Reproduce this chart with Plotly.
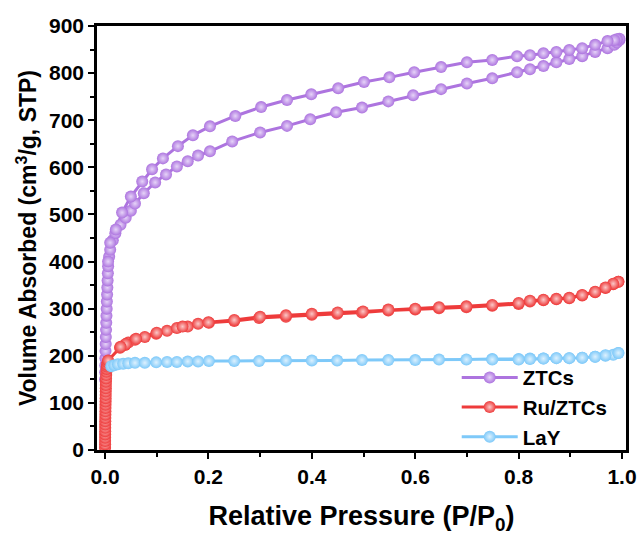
import plotly.graph_objects as go

# ZTCs adsorption branch
ztc_ads_p = [0.0002, 0.0004, 0.0006, 0.0008, 0.001, 0.0013, 0.0016, 0.002, 0.0024, 0.0028,
             0.0032, 0.0036, 0.004, 0.0045, 0.005, 0.0055, 0.006, 0.008,
             0.01, 0.015, 0.02, 0.03, 0.04, 0.05, 0.058, 0.075, 0.097, 0.118, 0.139, 0.16,
             0.18, 0.203, 0.246, 0.30, 0.352, 0.397, 0.447, 0.497, 0.548, 0.596, 0.65,
             0.70, 0.749, 0.797, 0.822, 0.848, 0.873, 0.898, 0.923, 0.948, 0.972, 0.985,
             0.99, 0.995]
ztc_ads_v = [150, 165, 180, 195, 210, 225, 240, 255, 270, 285,
             300, 315, 330, 345, 360, 375, 390, 410,
             425, 445, 460, 478, 493, 508, 523, 545, 568, 585, 602, 613,
             625, 634, 655, 674, 688, 702, 717, 727, 740, 753, 766,
             778, 789, 802, 808, 815, 823, 830, 836, 845, 853, 860,
             865, 870]
# ZTCs desorption branch
ztc_des_p = [0.995, 0.99, 0.985, 0.972, 0.948, 0.923, 0.898, 0.873, 0.848, 0.822, 0.797,
             0.749, 0.70, 0.65, 0.598, 0.55, 0.501, 0.451, 0.399, 0.352, 0.302, 0.252,
             0.203, 0.170, 0.141, 0.112, 0.091, 0.072, 0.05, 0.033, 0.021, 0.01, 0.006]
ztc_des_v = [873, 872, 870, 868, 860, 853, 849, 845, 842, 838, 836,
             828, 823, 813, 802, 791, 781, 768, 755, 743, 728, 709,
             687, 668, 645, 619, 596, 570, 538, 504, 468, 440, 400]

# Ru/ZTCs adsorption branch
ru_ads_p = [0.0001, 0.00015, 0.0002, 0.00025, 0.0003, 0.00035, 0.0004, 0.00045, 0.0005, 0.0006,
            0.0007, 0.0008, 0.0009, 0.001, 0.0011, 0.0012, 0.0013, 0.0014, 0.0015, 0.0016,
            0.0018, 0.002, 0.0023, 0.0026, 0.003, 0.0035, 0.004, 0.005, 0.006,
            0.029, 0.039, 0.045, 0.058, 0.077, 0.099, 0.12, 0.139, 0.16, 0.18, 0.201,
            0.25, 0.298, 0.35, 0.40, 0.449, 0.497, 0.548, 0.60, 0.646, 0.699, 0.749,
            0.80, 0.822, 0.848, 0.873, 0.898, 0.923, 0.948, 0.968, 0.983, 0.993]
ru_ads_v = [5, 12, 19, 26, 33, 40, 47, 54, 61, 68,
            75, 82, 89, 96, 103, 110, 117, 124, 131, 138,
            145, 152, 159, 166, 172, 177, 181, 186, 190,
            217, 223, 228, 234, 240, 247, 253, 259, 262, 268, 270,
            274, 280, 283, 287, 289, 292, 296, 298, 301, 303, 306,
            310, 315, 318, 320, 322, 328, 335, 344, 352, 357]
# Ru/ZTCs desorption branch
ru_des_p = [0.993, 0.983, 0.968, 0.948, 0.923, 0.898, 0.873, 0.848, 0.822, 0.80,
            0.749, 0.699, 0.646, 0.60, 0.548, 0.499, 0.45, 0.40, 0.35, 0.30, 0.25,
            0.20, 0.15, 0.10, 0.06, 0.04, 0.03]
ru_des_v = [357, 353, 345, 336, 329, 323, 321, 319, 317, 312,
            308, 305, 303, 300, 298, 294, 292, 289, 286, 283, 276,
            271, 262, 249, 236, 225, 219]

# LaY adsorption branch
lay_ads_p = [0.012, 0.018, 0.025, 0.035, 0.045,
             0.058, 0.077, 0.099, 0.12, 0.139, 0.16, 0.18, 0.201, 0.25, 0.298, 0.35,
             0.40, 0.449, 0.497, 0.548, 0.60, 0.646, 0.699, 0.749, 0.80, 0.822, 0.848,
             0.873, 0.898, 0.923, 0.948, 0.968, 0.983, 0.993]
lay_ads_v = [178, 180, 182, 183, 184,
             185, 185, 186, 187, 187, 188, 188, 189, 189, 189, 190,
             190, 190, 191, 191, 191, 192, 192, 193, 193, 194, 194,
             195, 195, 196, 198, 200, 202, 206]
# LaY desorption branch
lay_des_p = [0.993, 0.968, 0.948, 0.923, 0.898, 0.873, 0.848, 0.822, 0.80, 0.749]
lay_des_v = [206, 201, 198, 196, 195, 195, 194, 193, 192, 192]

series = [
    ("ZTCs", ztc_ads_p + ztc_des_p, ztc_ads_v + ztc_des_v, "#AD74DF", "#E6D4F8"),
    ("Ru/ZTCs", ru_ads_p + ru_des_p, ru_ads_v + ru_des_v, "#EE3B3B", "#FBC8C8"),
    ("LaY", lay_ads_p + lay_des_p, lay_ads_v + lay_des_v, "#7EC9F9", "#DDF1FE"),
]

fig = go.Figure()
for name, xs, ys, col, hi in series:
    fig.add_trace(go.Scatter(
        x=xs, y=ys, name=name, mode="lines+markers",
        line=dict(color=col, width=3),
        marker=dict(symbol="circle", size=12, color=col,
                    gradient=dict(type="radial", color=hi),
                    line=dict(width=0)),
    ))

font_family = "Liberation Sans, Arial, sans-serif"
fig.update_layout(
    width=640, height=537,
    margin=dict(l=97, r=14, t=26, b=87, autoexpand=False),
    plot_bgcolor="white", paper_bgcolor="white",
    font=dict(family=font_family, size=21, color="black"),
    showlegend=True,
    legend=dict(x=0.68, y=0.218, xanchor="left", yanchor="top",
                bgcolor="rgba(0,0,0,0)", borderwidth=0,
                font=dict(size=20.5, family=font_family, weight="bold"),
                tracegroupgap=0, itemwidth=56),
    xaxis=dict(
        range=[-0.0155, 1.0077], automargin=False,
        title=dict(text="<b>Relative Pressure (P/P<sub>0</sub>)</b>", font=dict(size=27), standoff=20),
        tickvals=[0, 0.2, 0.4, 0.6, 0.8, 1.0],
        ticktext=["<b>0.0</b>", "<b>0.2</b>", "<b>0.4</b>", "<b>0.6</b>", "<b>0.8</b>", "<b>1.0</b>"],
        tickfont=dict(size=21),
        ticks="outside", ticklen=6, tickwidth=2, tickcolor="black",
        minor=dict(dtick=0.1, tick0=0, ticks="outside", ticklen=4, tickwidth=2, tickcolor="black"),
        showline=True, linewidth=2.5, linecolor="black", mirror=True,
        showgrid=False, zeroline=False,
    ),
    yaxis=dict(
        range=[0, 900], automargin=False,
        title=dict(text="<b>Volume Absorbed (cm<sup>3</sup>/g, STP)</b>", font=dict(size=23), standoff=6),
        tickvals=[0, 100, 200, 300, 400, 500, 600, 700, 800, 900],
        ticktext=["<b>%d</b>" % v for v in [0, 100, 200, 300, 400, 500, 600, 700, 800, 900]],
        tickfont=dict(size=21),
        ticks="outside", ticklen=6, tickwidth=2, tickcolor="black",
        minor=dict(dtick=50, tick0=0, ticks="outside", ticklen=4, tickwidth=2, tickcolor="black"),
        showline=True, linewidth=2.5, linecolor="black", mirror=True,
        showgrid=False, zeroline=False,
    ),
)

fig.write_html("out.html", config={"displayModeBar": False},
               post_script="document.body.style.margin='0';document.body.style.overflow='hidden';")
